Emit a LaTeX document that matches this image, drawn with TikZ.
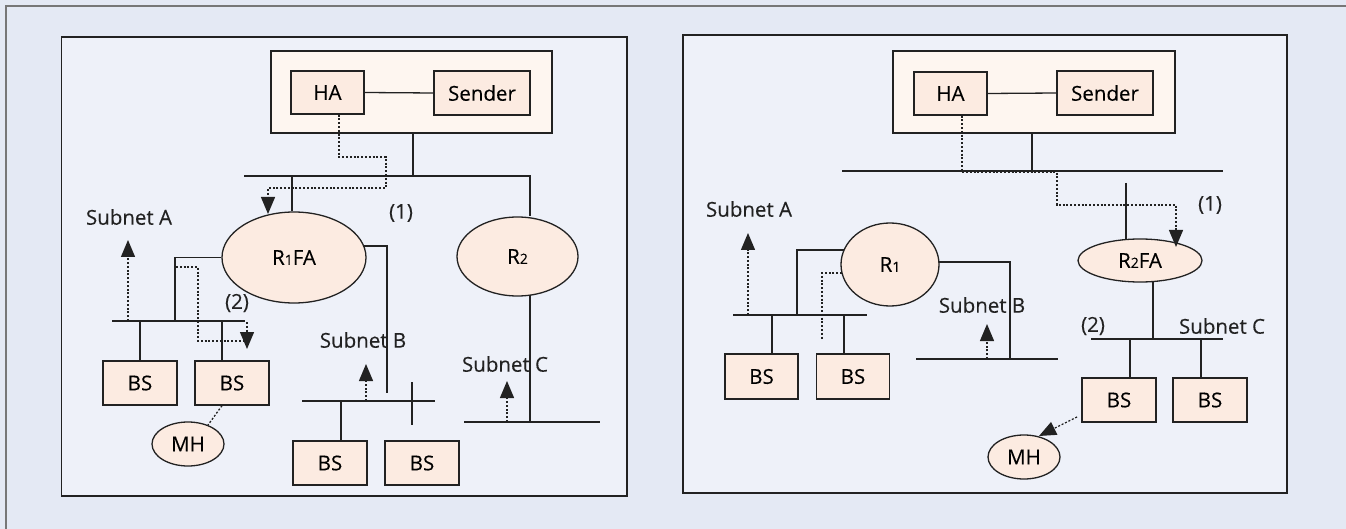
\documentclass[tikz,border=0pt]{standalone}
\usepackage{fontspec}
\setmainfont{Open Sans}[FakeBold=0.25]
\usetikzlibrary{shapes.geometric,arrows.meta}
\definecolor{bgc}{HTML}{E4E9F4}
\definecolor{panelc}{HTML}{EEF1F9}
\definecolor{topc}{HTML}{FEF6F0}
\definecolor{nodec}{HTML}{FCEBE1}
\definecolor{linec}{HTML}{222222}
\definecolor{framec}{HTML}{777777}
\newcommand{\sub}[1]{{\fontsize{14}{14}\selectfont #1}}
\tikzset{
  wire/.style={draw=linec, line width=1.3pt},
  dotwire/.style={draw=linec, line width=1.3pt, dash pattern=on 2pt off 1.8pt},
  tip/.style={-{Triangle[length=17pt,width=14pt]}},
  panelbox/.style={rectangle, draw=linec, line width=1.4pt, fill=panelc, inner sep=0pt},
  topbox/.style={rectangle, draw=linec, line width=1.3pt, fill=topc, inner sep=0pt},
  unitbox/.style={rectangle, draw=linec, line width=1.3pt, fill=nodec, inner sep=0pt,
    minimum width=74pt, minimum height=44pt, font=\fontsize{20.5}{20.5}\selectfont},
  router/.style={ellipse, draw=linec, line width=1.3pt, fill=nodec, inner sep=0pt,
    font=\fontsize{20.5}{20.5}\selectfont},
  lbl/.style={inner sep=0pt, font=\fontsize{20.5}{20.5}\selectfont, text=linec},
}
\begin{document}
\begin{tikzpicture}[x=1pt,y=-1pt]
\useasboundingbox (0,0) rectangle (1346,529);
\fill[bgc] (0,0) rectangle (1346,529);
\draw[draw=framec, line width=1.5pt] (6,529) -- (6,6) -- (1346,6);

% ===== Left panel =====
\node[panelbox, minimum width=565.5pt, minimum height=459pt] (PL) at (344.25,266.5) {};
\node[topbox, minimum width=281pt, minimum height=82pt] (TopL) at (411.5,92) {};
\node[unitbox, minimum width=73pt, minimum height=43pt] (HAL) at (327.5,92.5) {HA};
\node[unitbox, minimum width=96pt, minimum height=44pt] (SenL) at (482,93) {Sender};
\node[router, minimum width=144pt, minimum height=91pt] (R1L) at (294,257.5) {R\sub{1}FA};
\node[router, minimum width=121pt, minimum height=79pt] (R2L) at (517.5,256.5) {R\sub{2}};
\node[unitbox] (BS1L) at (140,383) {BS};
\node[unitbox] (BS2L) at (232,383) {BS};
\node[unitbox] (BS3L) at (330,463) {BS};
\node[unitbox] (BS4L) at (422,463) {BS};
\node[router, minimum width=72pt, minimum height=44pt] (MHL) at (188,444) {MH};

\node[lbl] (l1L) at (401,213) {(1)};
\node[lbl] (l2L) at (237,303) {(2)};
\node[lbl] (sAL) at (129,217) {Subnet A};
\node[lbl] (sBL) at (363,340) {Subnet B};
\node[lbl] (sCL) at (505,364) {Subnet C};

\coordinate (bus1La) at (244,176);
\coordinate (bus1Lb) at (530,176);
\coordinate (jTopL) at (413,176);
\coordinate (jR1L) at (292,176);
\coordinate (busALa) at (112,321);
\coordinate (busALb) at (245,321);
\coordinate (busBLa) at (302,401);
\coordinate (busBLb) at (435,401);
\coordinate (busCLa) at (464,422);
\coordinate (busCLb) at (600,422);

\draw[wire] (HAL.east) -- (SenL.west);
\draw[wire] (TopL.south -| jTopL) -- (jTopL);
\draw[wire] (bus1La) -- (bus1Lb) -- (bus1Lb |- R2L.north);
\draw[wire] (jR1L) -- (jR1L |- R1L.north);
\draw[dotwire, tip] ([xshift=11.5pt]HAL.south) |- (386,157) |- (268,188) -- (268,214);
% subnet A
\draw[wire] (R1L.west) -| (175,321);
\draw[wire] (busALa) -- (busALb);
\draw[wire] (BS1L.north) -- (BS1L.north |- busALa);
\draw[wire] ([xshift=-10pt]BS2L.north) -- ([xshift=-10pt]BS2L.north |- busALa);
\draw[dotwire, tip] (128,321) -- (128,240);
\draw[dotwire] (176,267) -| (198,341) -- (246,341);
\draw[dotwire, tip] (247,322) -- (247,349);
\draw[dotwire] ([xshift=-10pt]BS2L.south) -- (208,425);
% subnet B
\draw[wire] (364,246) -| (387,393);
\draw[wire] (busBLa) -- (busBLb);
\draw[wire] (412,382) -- (412,425);
\draw[wire] ([xshift=11pt]BS3L.north) -- ([xshift=11pt]BS3L.north |- busBLa);
\draw[dotwire, tip] (366,401) -- (366,364);
% subnet C
\draw[wire] (530,295) -- (530,422);
\draw[wire] (busCLa) -- (busCLb);
\draw[dotwire, tip] (507,422) -- (507,381);

% ===== Right panel =====
\node[panelbox, minimum width=604pt, minimum height=458pt] (PR) at (985,264) {};
\node[topbox, minimum width=282pt, minimum height=82pt] (TopR) at (1034,92) {};
\node[unitbox, minimum width=73pt, minimum height=43pt] (HAR) at (950.5,93.5) {HA};
\node[unitbox, minimum width=96pt, minimum height=44pt] (SenR) at (1105,93) {Sender};
\node[router, minimum width=98pt, minimum height=83pt] (R1R) at (890,264.5) {R\sub{1}};
\node[router, minimum width=124pt, minimum height=43pt] (R2R) at (1140,260.5) {R\sub{2}FA};
\node[unitbox, minimum width=73pt, minimum height=45pt] (BS1R) at (761.5,376.5) {BS};
\node[unitbox, minimum width=73pt, minimum height=45pt] (BS2R) at (853,376.5) {BS};
\node[unitbox] (BS3R) at (1119,400) {BS};
\node[unitbox] (BS4R) at (1210,400) {BS};
\node[router, minimum width=72pt, minimum height=44pt] (MHR) at (1024,457) {MH};

\node[lbl] (l1R) at (1210,205) {(1)};
\node[lbl] (l2R) at (1093,326) {(2)};
\node[lbl] (sAR) at (749,209) {Subnet A};
\node[lbl] (sBR) at (982,305) {Subnet B};
\node[lbl] (sCR) at (1222,326) {Subnet C};

\coordinate (bus1Ra) at (842,171);
\coordinate (bus1Rb) at (1223,171);
\coordinate (jTopR) at (1032,171);
\coordinate (busARa) at (733,315);
\coordinate (busARb) at (867,315);
\coordinate (busBRa) at (916,359);
\coordinate (busBRb) at (1058,359);
\coordinate (busCRa) at (1091,339);
\coordinate (busCRb) at (1223,339);

\draw[wire] (HAR.east) -- (SenR.west);
\draw[dotwire, tip] ([xshift=11.5pt]HAR.south) |- (1057,172.5) |- (1176,205) -- (1176,247);
\draw[wire] (TopR.south -| jTopR) -- (jTopR);
\draw[wire] (bus1Ra) -- (bus1Rb);
\draw[wire] (1126,183) -- (1126,239.5);
\draw[wire] (1153,281) -- (1153,339);
\draw[wire] (busCRa) -- (busCRb);
\draw[wire] ([xshift=11pt]BS3R.north) -- ([xshift=11pt]BS3R.north |- busCRa);
\draw[wire] ([xshift=-9pt]BS4R.north) -- ([xshift=-9pt]BS4R.north |- busCRa);
\draw[dotwire, tip] (1077,417) -- (1039,436);
% subnet A
\draw[wire] (844,250) -| (797,315);
\draw[wire] (busARa) -- (busARb);
\draw[wire] ([xshift=10.5pt]BS1R.north) -- ([xshift=10.5pt]BS1R.north |- busARa);
\draw[wire] ([xshift=-9pt]BS2R.north) -- ([xshift=-9pt]BS2R.north |- busARa);
\draw[dotwire, tip] (748,315) -- (748,233);
\draw[dotwire] (842,273) -| (822,340);
% subnet B
\draw[wire] (939,262) -| (1010,359);
\draw[wire] (busBRa) -- (busBRb);
\draw[dotwire, tip] (987,359) -- (987,324);
\end{tikzpicture}
\end{document}
